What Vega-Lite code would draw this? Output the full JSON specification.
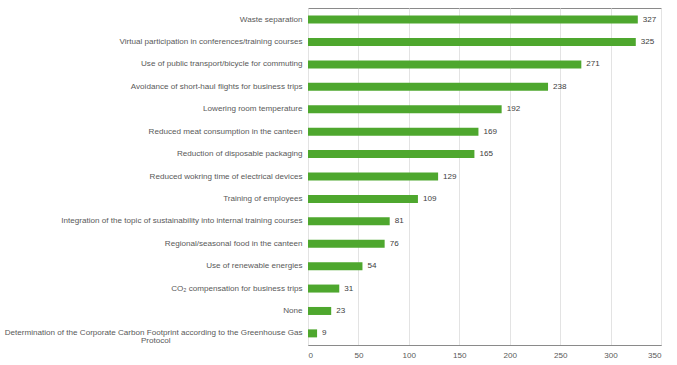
{
  "$schema": "https://vega.github.io/schema/vega-lite/v6.json",
  "autosize": {"type": "none"},
  "padding": {"left": 308, "top": 8, "right": 16, "bottom": 20},
  "width": 353,
  "height": 337,
  "background": "white",
  "config": {
    "font": "Liberation Sans",
    "view": {"stroke": "#8a8a8a", "strokeWidth": 1}
  },
  "data": {
    "values": [
      {"measure": "Waste separation", "count": 327},
      {"measure": "Virtual participation in conferences/training courses", "count": 325},
      {"measure": "Use of public transport/bicycle for commuting", "count": 271},
      {"measure": "Avoidance of short-haul flights for business trips", "count": 238},
      {"measure": "Lowering room temperature", "count": 192},
      {"measure": "Reduced meat consumption in the canteen", "count": 169},
      {"measure": "Reduction of disposable packaging", "count": 165},
      {"measure": "Reduced wokring time of electrical devices", "count": 129},
      {"measure": "Training of employees", "count": 109},
      {"measure": "Integration of the topic of sustainability into internal training courses", "count": 81},
      {"measure": "Regional/seasonal food in the canteen", "count": 76},
      {"measure": "Use of renewable energies", "count": 54},
      {"measure": "CO₂ compensation for business trips", "count": 31},
      {"measure": "None", "count": 23},
      {"measure": "Determination of the Corporate Carbon Footprint according to the Greenhouse Gas|Protocol", "count": 9}
    ]
  },
  "encoding": {
    "y": {
      "field": "measure",
      "type": "nominal",
      "sort": null,
      "scale": {"paddingInner": 0.643, "paddingOuter": 0.34},
      "axis": {
        "title": null,
        "ticks": false,
        "domain": false,
        "labelFontSize": 8.1,
        "labelColor": "#595959",
        "labelPadding": 6,
        "labelLimit": 400,
        "labelLineHeight": 8,
        "labelExpr": "indexof(datum.label, '|') > 0 ? [split(datum.label, '|')[0], pad(split(datum.label, '|')[1], 64, '\u00a0') + '\u2800'] : datum.label"
      }
    },
    "x": {
      "field": "count",
      "type": "quantitative",
      "scale": {"domain": [0, 350], "nice": false},
      "axis": {
        "title": null,
        "values": [0, 50, 100, 150, 200, 250, 300, 350],
        "ticks": false,
        "domainColor": "#8a8a8a",
        "gridColor": "#e3e3e3",
        "labelFontSize": 8.1,
        "labelColor": "#595959",
        "labelPadding": 6
      }
    }
  },
  "layer": [
    {"mark": {"type": "bar", "color": "#4ea72e"}},
    {
      "mark": {"type": "text", "align": "left", "dx": 5, "fontSize": 8.1, "color": "#404040"},
      "encoding": {"text": {"field": "count", "type": "quantitative"}}
    }
  ]
}
